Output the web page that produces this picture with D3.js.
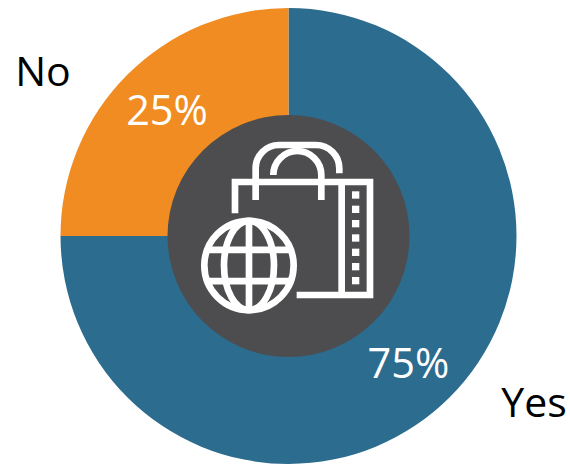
<!DOCTYPE html>
<html>
<head>
<meta charset="utf-8">
<script src="https://cdn.jsdelivr.net/npm/d3@7"></script>
<style>
html,body{margin:0;padding:0;background:#fff}
svg{display:block}
text{font-family:"Open Sans",sans-serif}
</style>
</head>
<body>
<script>
const categories = ["Yes", "No"];
const shares = [75, 25];
const sliceColors = ["#2b6c8f", "#f08c21"];
const width = 570, height = 464;
const cx = 288.5, cy = 236, outerR = 228, innerR = 121;

const svg = d3.select("body").append("svg").attr("width", width).attr("height", height);
const root = svg.append("g").attr("transform", `translate(${cx},${cy})`);

const pie = d3.pie().sort(null)(shares);
const arc = d3.arc().innerRadius(0).outerRadius(outerR);
root.selectAll("path.slice").data(pie).join("path")
  .attr("class", "slice").attr("d", arc)
  .attr("fill", (d, i) => sliceColors[i]);

root.append("circle").attr("r", innerR).attr("fill", "#4d4d4f");

// Value labels sit in the ring, category labels just outside it
const valueSpots = [[120, 142], [-121.5, -111]];
root.selectAll("text.value").data(pie).join("text")
  .attr("class", "value")
  .attr("x", (d, i) => valueSpots[i][0]).attr("y", (d, i) => valueSpots[i][1])
  .attr("text-anchor", "middle").attr("fill", "#fff").attr("font-size", 41.5)
  .text(d => d.data + "%");

const nameSpots = [[534, 417], [43, 86]];
svg.selectAll("text.name").data(categories).join("text")
  .attr("class", "name")
  .attr("x", (d, i) => nameSpots[i][0]).attr("y", (d, i) => nameSpots[i][1])
  .attr("text-anchor", "middle").attr("fill", "#000").attr("font-size", 41)
  .text(d => d);

// Shopping bag and globe emblem, laid out in a 3x grid then scaled down
const icon = svg.append("g")
  .attr("transform", "translate(160,125) scale(0.3333)")
  .attr("fill", "none").attr("stroke", "#fff").attr("stroke-width", 20);
icon.append("path").attr("d", "M225,265V171H630V510H410M545,171V510");
icon.append("path").attr("d", "M287,225V130A70,70 0 0 1 357,60H468A70,70 0 0 1 538,130V145");
icon.append("path").attr("d", "M340,145V150A72,72 0 0 1 484,150V225");
const studs = [210, 253, 296, 339, 382, 425, 467];
icon.selectAll("rect.stud").data(studs).join("rect")
  .attr("class", "stud").attr("x", 576).attr("y", d => d - 11)
  .attr("width", 22).attr("height", 22).attr("fill", "#fff").attr("stroke", "none");
const gx = 267, gy = 421.5;
icon.append("circle").attr("cx", gx).attr("cy", gy).attr("r", 134);
icon.append("ellipse").attr("cx", gx).attr("cy", gy).attr("rx", 75).attr("ry", 134);
icon.append("path").attr("d", `M${gx},${gy - 134}V${gy + 134}M${gx - 120},${gy - 47}H${gx + 120}M${gx - 120},${gy + 47}H${gx + 120}`);
</script>
</body>
</html>
